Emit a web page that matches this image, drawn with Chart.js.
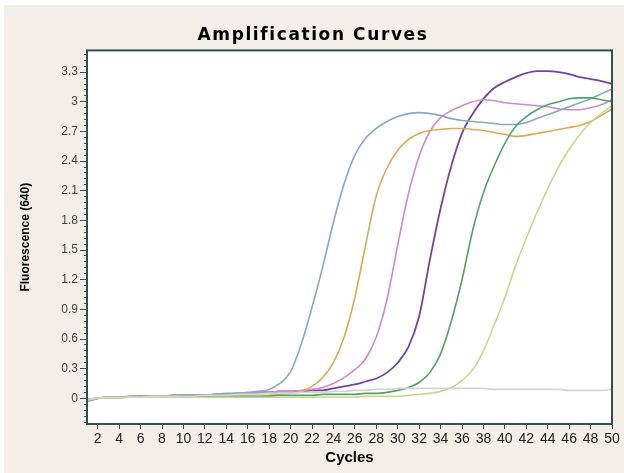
<!DOCTYPE html>
<html>
<head>
<meta charset="utf-8">
<title>Amplification Curves</title>
<script src="https://cdn.jsdelivr.net/npm/chart.js@4.4.1/dist/chart.umd.min.js"></script>
<style>
  html, body { margin: 0; padding: 0; background: #ffffff; }
  #wrap { position: relative; width: 624px; height: 473px; }
  #panel { position: absolute; left: 4px; top: 5px; right: 0; bottom: 0; background: #f3eee8; }
  #chart { position: relative; }
</style>
</head>
<body>
<div id="wrap"><div id="panel"></div><canvas id="chart" width="624" height="473"></canvas></div>
<script>
// Cycle numbers (x values)
var cycles = [1, 2, 3, 4, 5, 6, 7, 8, 9, 10, 11, 12, 13, 14, 15, 16, 17, 18, 19, 20,
  21, 22, 23, 24, 25, 26, 27, 28, 29, 30, 31, 32, 33, 34, 35, 36, 37, 38, 39, 40,
  41, 42, 43, 44, 45, 46, 47, 48, 49, 50];

// Fluorescence (640) per sample
var blueSample = [-0.03, 0.00, 0.01, 0.01, 0.01, 0.02, 0.02, 0.02, 0.03, 0.03,
  0.03, 0.03, 0.04, 0.05, 0.05, 0.06, 0.07, 0.09, 0.15, 0.27,
  0.55, 0.92, 1.33, 1.78, 2.17, 2.46, 2.63, 2.73, 2.80, 2.85,
  2.88, 2.89, 2.88, 2.86, 2.83, 2.81, 2.80, 2.79, 2.78, 2.77,
  2.77, 2.79, 2.83, 2.87, 2.91, 2.95, 2.99, 3.03, 3.08, 3.13];
var orangeSample = [-0.02, 0.00, 0.01, 0.01, 0.01, 0.01, 0.02, 0.02, 0.02, 0.02,
  0.02, 0.02, 0.02, 0.02, 0.02, 0.02, 0.02, 0.03, 0.04, 0.05,
  0.07, 0.12, 0.21, 0.36, 0.62, 1.02, 1.55, 2.05, 2.33, 2.51,
  2.62, 2.68, 2.71, 2.72, 2.73, 2.73, 2.72, 2.71, 2.69, 2.67,
  2.65, 2.66, 2.68, 2.70, 2.72, 2.74, 2.76, 2.80, 2.86, 2.93];
var pinkSample = [-0.02, 0.00, 0.01, 0.01, 0.01, 0.02, 0.02, 0.02, 0.02, 0.03,
  0.03, 0.03, 0.04, 0.04, 0.05, 0.05, 0.06, 0.06, 0.07, 0.07,
  0.08, 0.09, 0.11, 0.15, 0.21, 0.29, 0.40, 0.62, 1.00, 1.55,
  2.07, 2.45, 2.70, 2.84, 2.91, 2.96, 3.00, 3.02, 3.01, 2.99,
  2.98, 2.97, 2.96, 2.95, 2.93, 2.92, 2.92, 2.94, 2.97, 3.02];
var purpleSample = [-0.03, 0.00, 0.01, 0.01, 0.02, 0.02, 0.02, 0.02, 0.03, 0.03,
  0.03, 0.03, 0.04, 0.04, 0.05, 0.05, 0.06, 0.06, 0.07, 0.07,
  0.07, 0.08, 0.08, 0.10, 0.12, 0.14, 0.17, 0.20, 0.26, 0.36,
  0.52, 0.83, 1.40, 1.92, 2.35, 2.68, 2.88, 3.03, 3.14, 3.20,
  3.25, 3.29, 3.31, 3.31, 3.30, 3.28, 3.25, 3.23, 3.21, 3.18];
var greenSample = [-0.01, 0.00, 0.00, 0.01, 0.01, 0.01, 0.01, 0.01, 0.01, 0.02,
  0.02, 0.02, 0.02, 0.02, 0.02, 0.02, 0.02, 0.02, 0.03, 0.03,
  0.03, 0.03, 0.04, 0.04, 0.04, 0.04, 0.05, 0.05, 0.06, 0.08,
  0.11, 0.16, 0.26, 0.45, 0.78, 1.20, 1.70, 2.08, 2.35, 2.58,
  2.75, 2.85, 2.92, 2.97, 3.00, 3.03, 3.04, 3.04, 3.02, 3.00];
var limeSample = [-0.02, 0.00, 0.00, 0.00, 0.01, 0.01, 0.01, 0.01, 0.01, 0.01,
  0.01, 0.01, 0.01, 0.01, 0.01, 0.01, 0.01, 0.01, 0.01, 0.01,
  0.01, 0.01, 0.01, 0.01, 0.01, 0.01, 0.02, 0.02, 0.02, 0.02,
  0.03, 0.04, 0.05, 0.07, 0.11, 0.18, 0.29, 0.48, 0.74, 1.02,
  1.34, 1.62, 1.88, 2.12, 2.34, 2.52, 2.67, 2.79, 2.88, 2.96];
var controlSample = [-0.01, 0.00, 0.01, 0.01, 0.01, 0.01, 0.02, 0.02, 0.02, 0.02,
  0.02, 0.03, 0.03, 0.03, 0.04, 0.04, 0.04, 0.05, 0.05, 0.05,
  0.06, 0.06, 0.06, 0.07, 0.07, 0.08, 0.08, 0.09, 0.09, 0.10,
  0.10, 0.10, 0.10, 0.10, 0.10, 0.10, 0.10, 0.10, 0.09, 0.09,
  0.09, 0.09, 0.09, 0.09, 0.09, 0.08, 0.08, 0.08, 0.08, 0.09];

// Axis ticks
var xTicks = [2, 4, 6, 8, 10, 12, 14, 16, 18, 20, 22, 24, 26, 28, 30, 32, 34, 36, 38, 40, 42, 44, 46, 48, 50];
var yTicks = [0, 0.3, 0.6, 0.9, 1.2, 1.5, 1.8, 2.1, 2.4, 2.7, 3, 3.3];
var yMinorTicks = [];
for (var k = -4; k <= 58; k++) {
  yMinorTicks.push(+(k * 0.06).toFixed(2));
}

var axisColor = "#2f4f50";

function toPoints(values) {
  return values.map(function (v, i) {
    return { x: cycles[i], y: v };
  });
}

function curve(values, color, width) {
  return {
    data: toPoints(values),
    borderColor: color,
    borderWidth: width || 1.6,
    pointRadius: 0,
    fill: false,
    cubicInterpolationMode: "monotone"
  };
}

// white plot area with a dark frame; wide letter spacing for the main title only
var plotFrame = {
  id: "plotFrame",
  beforeDraw: function (chart) {
    var a = chart.chartArea;
    var ctx = chart.ctx;
    ctx.save();
    ctx.fillStyle = "#ffffff";
    ctx.fillRect(a.left, a.top, a.right - a.left, a.bottom - a.top);
    ctx.restore();
    ctx.letterSpacing = "1.6px";
  },
  beforeDatasetsDraw: function (chart) {
    chart.ctx.letterSpacing = "0px";
  },
  afterDatasetsDraw: function (chart) {
    var a = chart.chartArea;
    var ctx = chart.ctx;
    ctx.save();
    ctx.strokeStyle = axisColor;
    ctx.lineWidth = 2;
    ctx.strokeRect(a.left, a.top, a.right - a.left, a.bottom - a.top);
    ctx.restore();
  }
};

var chart = new Chart(document.getElementById("chart"), {
  type: "line",
  data: {
    datasets: [
      curve(controlSample, "#d4d4d4"),
      curve(limeSample, "#c6d78e"),
      curve(greenSample, "#4ea468"),
      curve(orangeSample, "#d8ab55"),
      curve(blueSample, "#87a7c4"),
      curve(pinkSample, "#d18ac5"),
      curve(purpleSample, "#7442a3", 1.8)
    ]
  },
  options: {
    responsive: false,
    animation: false,
    layout: { padding: { left: 14, right: 12, top: 0, bottom: 6 } },
    plugins: {
      legend: { display: false },
      tooltip: { enabled: false },
      title: {
        display: true,
        text: "Amplification Curves",
        color: "#000",
        font: { family: "DejaVu Sans", size: 17, weight: "bold" },
        padding: { top: 25, bottom: 5 }
      }
    },
    scales: {
      x: {
        type: "linear",
        min: 1,
        max: 50,
        afterBuildTicks: function (scale) {
          scale.ticks = xTicks.map(function (v) { return { value: v }; });
        },
        afterFit: function (scale) { scale.height = 43; },
        grid: { drawOnChartArea: false, tickLength: 5, color: axisColor, z: 1 },
        border: { display: false },
        ticks: {
          z: 1,
          autoSkip: false,
          maxRotation: 0,
          padding: 2,
          color: "#222",
          font: { family: "Liberation Sans", size: 14 }
        },
        title: {
          display: true,
          text: "Cycles",
          color: "#000",
          font: { family: "Liberation Sans", size: 15, weight: "bold" },
          padding: { top: 0, bottom: 0 }
        }
      },
      y: {
        type: "linear",
        min: -0.26,
        max: 3.52,
        afterBuildTicks: function (scale) {
          scale.ticks = yTicks.map(function (v) { return { value: v }; });
        },
        afterFit: function (scale) { scale.width = 73; },
        grid: { drawOnChartArea: false, tickLength: 7, color: axisColor, z: 1 },
        border: { display: false },
        ticks: {
          z: 1,
          padding: 2,
          color: "#444",
          font: { family: "Liberation Sans", size: 12 },
          callback: function (v) { return String(v); }
        },
        title: {
          display: true,
          text: "Fluorescence (640)",
          color: "#000",
          font: { family: "Liberation Sans", size: 12, weight: "bold" },
          padding: { top: 4, bottom: 0 }
        }
      },
      yMinor: {
        type: "linear",
        position: { x: 1 },
        min: -0.26,
        max: 3.52,
        afterBuildTicks: function (scale) {
          scale.ticks = yMinorTicks.map(function (v) { return { value: v }; });
        },
        grid: { drawOnChartArea: false, tickLength: 3, color: axisColor, z: 1 },
        border: { display: false },
        ticks: { display: false, z: 1 }
      }
    }
  },
  plugins: [plotFrame]
});
</script>
</body>
</html>
